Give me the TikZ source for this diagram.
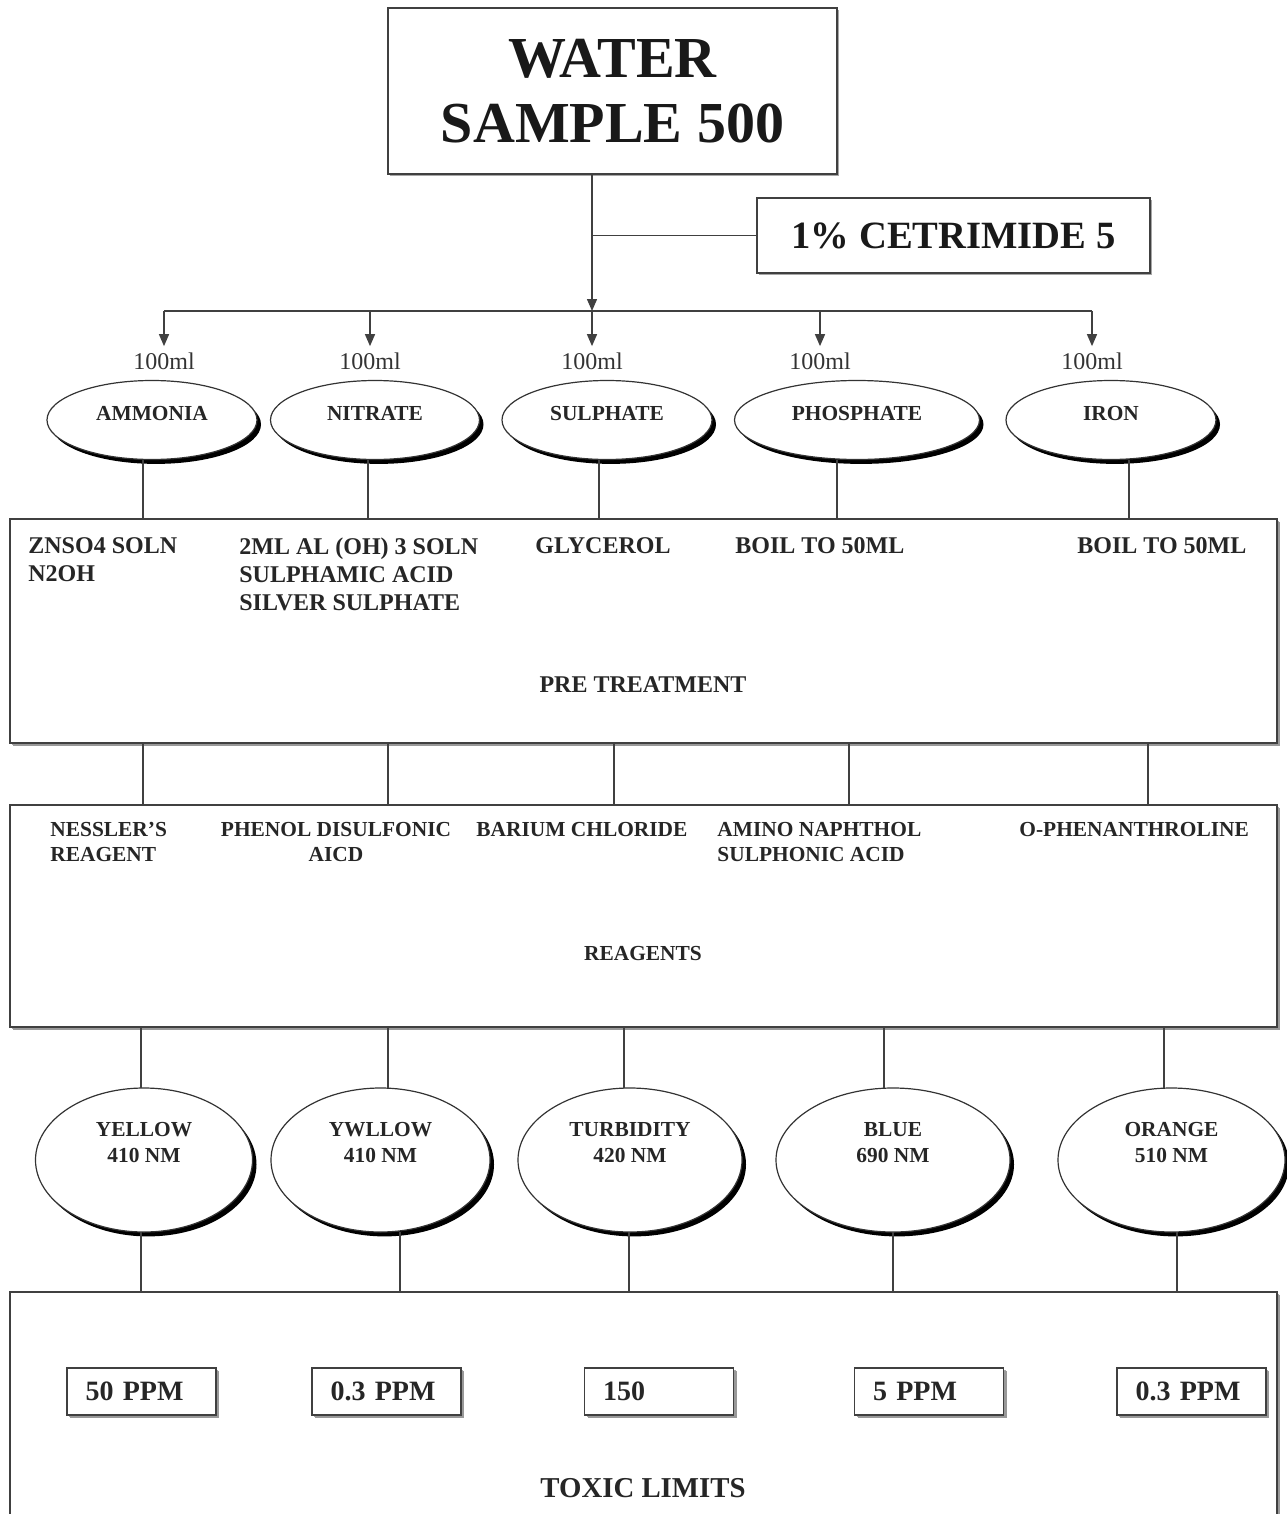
\documentclass[tikz,border=0pt]{standalone}
\usepackage{fontspec}
\setmainfont{Liberation Serif}
\usetikzlibrary{arrows.meta, shapes.geometric, shadows}

\tikzset{
  conn/.style={draw=black!75, line width=0.7pt},
  arr/.style={conn, -{Triangle[width=5pt,length=6pt]}},
  bigbox/.style={draw=black!75, line width=0.9pt, fill=white, inner sep=0pt, outer sep=0pt,
    drop shadow={shadow xshift=1pt, shadow yshift=-1pt, fill=black!35, opacity=1}},
  panel/.style={bigbox, minimum width=633.5pt, minimum height=112pt,
    drop shadow={shadow xshift=1.6pt, shadow yshift=-1.6pt, fill=black!40, opacity=1}},
  oval/.style={ellipse, draw=black!80, line width=0.6pt, fill=white, inner sep=0pt, outer sep=0pt,
    text=black!85, font=\bfseries\fontsize{10.7}{13}\selectfont,
    drop shadow={shadow xshift=2pt, shadow yshift=-2.2pt, fill=black, opacity=1}},
  pretext/.style={anchor=north west, inner sep=0pt, align=left, text=black!85,
    font=\bfseries\fontsize{12}{14}\selectfont},
  reatext/.style={anchor=north west, inner sep=0pt, align=left, text=black!85,
    font=\bfseries\fontsize{10.7}{12.5}\selectfont},
  limbox/.style={bigbox, minimum width=74.5pt, minimum height=23.5pt, text width=56pt,
    inner xsep=9.25pt, align=left, text=black!85, font=\bfseries\fontsize{14}{16}\selectfont,
    drop shadow={shadow xshift=1.6pt, shadow yshift=-1.6pt, fill=black!40, opacity=1}}
}

\begin{document}
\begin{tikzpicture}[x=0.5pt, y=-0.5pt]
\useasboundingbox (0,0) rectangle (1286,1514);

\node[bigbox, minimum width=224.5pt, minimum height=83pt, align=center, text=black!90,
  font=\bfseries\fontsize{29}{32.5}\selectfont] (water) at (612.5,91) {WATER\\SAMPLE 500};
\node[bigbox, minimum width=196.5pt, minimum height=37.5pt, text=black!90,
  font=\bfseries\fontsize{19.3}{22}\selectfont] (cetr) at (953.5,235.5) {1\% CETRIMIDE 5};
\coordinate (bus) at (592,311);
\draw[conn] (cetr.west) -- (cetr.west -| bus);
\draw[arr] (water.south -| bus) -- (bus);

\foreach \x/\n in {164/1, 370/2, 592/3, 820/4, 1092/5}
  \node[inner sep=3pt, text=black!80, font=\fontsize{12}{14}\selectfont] (ml\n) at (\x,361) {100ml};
\draw[conn] (ml1.north |- bus) -- (ml5.north |- bus);
\foreach \n in {1,...,5}
  \draw[arr] (ml\n.north |- bus) -- (ml\n.north);

\foreach \x/\w/\n/\t in {152/105/amm/AMMONIA, 375/104.5/nit/NITRATE, 607/105/sul/SULPHATE,
    857/122.5/pho/PHOSPHATE, 1111/105/iro/IRON}
  \node[oval, minimum width=\w pt, minimum height=39.5pt, text height=7pt, text depth=7pt] (\n) at (\x,420) {\t};

\node[panel] (pre) at (643.5,631) {};
\foreach \n/\x in {amm/143, nit/368, sul/599, pho/837, iro/1129}
  \draw[conn] (\n.south -| \x,0) -- (pre.north -| \x,0);
\node[pretext] (zn) at (28,537) {ZNSO4 SOLN\\N2OH};
\node[pretext] (al) at (239,537) {2ML AL (OH) 3 SOLN\\SULPHAMIC ACID\\SILVER SULPHATE};
\node[pretext] (gly) at (535,537) {GLYCEROL};
\node[pretext] (boila) at (735,537) {BOIL TO 50ML};
\node[pretext] (boilb) at (1077,537) {BOIL TO 50ML};
\node[pretext, anchor=center] (pretitle) at (643,685) {PRE TREATMENT};

\node[panel, minimum height=111pt] (rea) at (643.5,916) {};
\foreach \x in {143,388,614,849,1148}
  \draw[conn] (pre.south -| \x,0) -- (rea.north -| \x,0);
\node[reatext] (nes) at (50,822) {NESSLER’S\\REAGENT};
\node[reatext, anchor=north, align=center] (phe) at (336,822) {PHENOL DISULFONIC\\AICD};
\node[reatext] (bar) at (476,822) {BARIUM CHLORIDE};
\node[reatext] (ami) at (717,822) {AMINO NAPHTHOL\\SULPHONIC ACID};
\node[reatext] (oph) at (1019,822) {O-PHENANTHROLINE};
\node[reatext, anchor=center] (reatitle) at (643,954) {REAGENTS};

\foreach \x/\w/\n/\t in {144/108.5/yel/{YELLOW\\410 NM}, 380.5/109.5/ywl/{YWLLOW\\410 NM},
    630/112/tur/{TURBIDITY\\420 NM}, 893/117/blu/{BLUE\\690 NM}, 1171.5/113.5/ora/{ORANGE\\510 NM}}
  \node[oval, align=center, minimum width=\w pt, minimum height=72pt, text height=7pt, text depth=5pt] (\n) at (\x,1160) {\t};
\foreach \n/\x in {yel/141, ywl/388, tur/624, blu/884, ora/1164}
  \draw[conn] (rea.south -| \x,0) -- (\n.north -| \x,0);

\node[panel, minimum height=115pt] (tox) at (643.5,1407) {};
\foreach \n/\x in {yel/141, ywl/400, tur/629, blu/893, ora/1177}
  \draw[conn] (\n.south -| \x,0) -- (tox.north -| \x,0);
\foreach \x/\n/\t in {141.5/lima/50 PPM, 386.5/limb/0.3 PPM, 659/limc/150, 929/limd/5 PPM, 1191.5/lime/0.3 PPM}
  \node[limbox] (\n) at (\x,1391.5) {\t};
\node[inner sep=0pt, text=black!85, font=\bfseries\fontsize{14.4}{16}\selectfont] (toxtitle) at (643,1488) {TOXIC LIMITS};
\end{tikzpicture}
\end{document}
